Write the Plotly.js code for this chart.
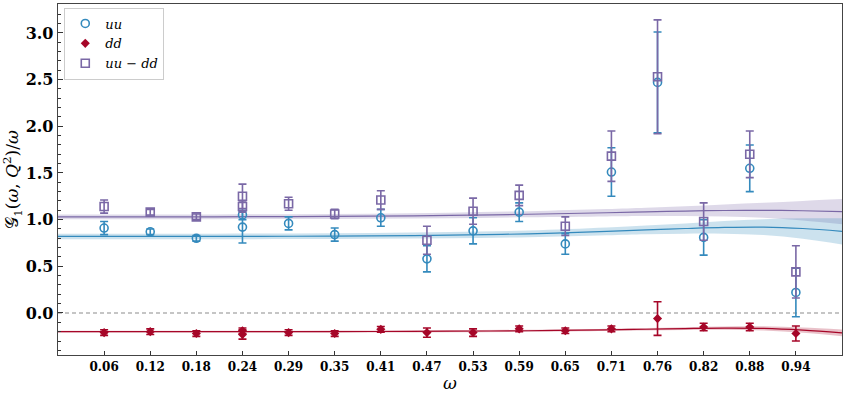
<!DOCTYPE html>
<html>
<head>
<meta charset="utf-8">
<script src="https://cdn.plot.ly/plotly-3.0.1.min.js"></script>
<style>html,body{margin:0;padding:0;background:#fff;}#chart{width:847px;height:394px;}</style>
</head>
<body>
<div id="chart"></div>
<script>
// ---- data points (omega = k/17, with two entries at 0.24) ----
const omega = [0.05882, 0.11765, 0.17647, 0.23529, 0.23529, 0.29412, 0.35294, 0.41176, 0.47059, 0.52941, 0.58824, 0.64706, 0.70588, 0.76471, 0.82353, 0.88235, 0.94118];
const uuVal  = [0.91, 0.87, 0.80, 1.05, 0.92, 0.96, 0.84, 1.02, 0.58, 0.88, 1.08, 0.74, 1.51, 2.47, 0.81, 1.55, 0.22];
const uuErr  = [0.07, 0.03, 0.03, 0.05, 0.17, 0.07, 0.07, 0.09, 0.14, 0.14, 0.10, 0.11, 0.26, 0.54, 0.19, 0.25, 0.26];
const ddVal  = [-0.21, -0.20, -0.22, -0.19, -0.23, -0.21, -0.22, -0.175, -0.21, -0.21, -0.17, -0.19, -0.17, -0.06, -0.15, -0.15, -0.22];
const ddErr  = [0.03, 0.03, 0.03, 0.03, 0.05, 0.03, 0.03, 0.03, 0.05, 0.04, 0.03, 0.03, 0.03, 0.18, 0.04, 0.04, 0.08];
const udVal  = [1.14, 1.08, 1.03, 1.25, 1.14, 1.17, 1.06, 1.21, 0.78, 1.09, 1.26, 0.93, 1.68, 2.53, 0.98, 1.70, 0.44];
const udErr  = [0.07, 0.03, 0.03, 0.13, 0.06, 0.07, 0.05, 0.10, 0.15, 0.14, 0.11, 0.10, 0.27, 0.61, 0.20, 0.25, 0.28];

// ---- tick labels ----
const tickVals = [0.05882, 0.11765, 0.17647, 0.23529, 0.29412, 0.35294, 0.41176, 0.47059, 0.52941, 0.58824, 0.64706, 0.70588, 0.76471, 0.82353, 0.88235, 0.94118];
const tickText = ["0.06","0.12","0.18","0.24","0.29","0.35","0.41","0.47","0.53","0.59","0.65","0.71","0.76","0.82","0.88","0.94"];

// ---- fit curves ----
const fitX    = [0.0, 0.1, 0.2, 0.3, 0.4, 0.5, 0.6, 0.7, 0.75, 0.8, 0.85, 0.9, 0.95, 1.0];
const uuFit   = [0.82, 0.82, 0.82, 0.822, 0.826, 0.834, 0.848, 0.874, 0.89, 0.905, 0.917, 0.92, 0.905, 0.875];
const uuBand  = [0.03, 0.03, 0.03, 0.03, 0.031, 0.033, 0.036, 0.042, 0.047, 0.055, 0.068, 0.085, 0.11, 0.14];
const ddFit   = [-0.20, -0.20, -0.20, -0.20, -0.198, -0.195, -0.19, -0.18, -0.174, -0.167, -0.162, -0.165, -0.183, -0.212];
const ddBand  = [0.01, 0.01, 0.01, 0.01, 0.01, 0.01, 0.011, 0.012, 0.013, 0.015, 0.018, 0.022, 0.028, 0.036];
const udFit   = [1.03, 1.03, 1.03, 1.033, 1.037, 1.045, 1.058, 1.074, 1.083, 1.092, 1.098, 1.10, 1.095, 1.085];
const udBand  = [0.025, 0.025, 0.025, 0.026, 0.027, 0.03, 0.033, 0.04, 0.045, 0.052, 0.065, 0.08, 0.105, 0.135];

const cBlue = '#348ABD', cRed = '#A60628', cPurp = '#7A68A6';

function band(center, half, color, fillcol) {
  const up = center.map((v, i) => v + half[i]);
  const lo = center.map((v, i) => v - half[i]);
  return [
    {x: fitX, y: lo, mode: 'lines', line: {width: 0, shape: 'spline'}, showlegend: false, hoverinfo: 'skip'},
    {x: fitX, y: up, mode: 'lines', line: {width: 0, shape: 'spline'}, fill: 'tonexty', fillcolor: fillcol, showlegend: false, hoverinfo: 'skip'},
    {x: fitX, y: center, mode: 'lines', line: {width: 1.2, color: color, shape: 'spline'}, showlegend: false, hoverinfo: 'skip'}
  ];
}

const traces = [].concat(
  band(udFit, udBand, cPurp, 'rgba(122,104,166,0.25)'),
  band(uuFit, uuBand, cBlue, 'rgba(52,138,189,0.25)'),
  band(ddFit, ddBand, cRed, 'rgba(166,6,40,0.25)'),
  [
    {x: omega, y: uuVal, name: '<i>uu</i>', mode: 'markers', type: 'scatter',
     marker: {symbol: 'circle-open', size: 8, color: cBlue, line: {width: 1.6, color: cBlue}},
     error_y: {type: 'data', array: uuErr, visible: true, color: cBlue, thickness: 1.6, width: 4}},
    {x: omega, y: ddVal, name: '<i>dd</i>', mode: 'markers', type: 'scatter',
     marker: {symbol: 'diamond', size: 7, color: cRed},
     error_y: {type: 'data', array: ddErr, visible: true, color: cRed, thickness: 1.6, width: 4}},
    {x: omega, y: udVal, name: '<i>uu</i> − <i>dd</i>', mode: 'markers', type: 'scatter',
     marker: {symbol: 'square-open', size: 8, color: cPurp, line: {width: 1.6, color: cPurp}},
     error_y: {type: 'data', array: udErr, visible: true, color: cPurp, thickness: 1.6, width: 4}}
  ]
);

const layout = {
  width: 847, height: 394,
  margin: {l: 58, r: 5, t: 4, b: 39},
  paper_bgcolor: '#fff', plot_bgcolor: '#fff',
  font: {family: 'DejaVu Serif, serif', color: '#000'},
  showlegend: true,
  legend: {x: 0.008, y: 0.99, xanchor: 'left', yanchor: 'top', bgcolor: 'rgba(255,255,255,0.9)',
           bordercolor: '#cccccc', borderwidth: 1, font: {size: 13, family: 'DejaVu Serif, serif'},
           traceorder: 'normal', tracegroupgap: 0, itemwidth: 20},
  xaxis: {range: [0, 1], showgrid: false, zeroline: false,
          tickmode: 'array', tickvals: tickVals, ticktext: tickText,
          ticks: 'inside', ticklen: 4, tickwidth: 1, tickcolor: '#333',
          tickfont: {size: 12, family: 'DejaVu Serif, serif', weight: 'bold'},
          showline: true, mirror: true, linecolor: '#444', linewidth: 1.3,
          title: {text: '<i>ω</i>', font: {size: 17}, standoff: 4}},
  yaxis: {range: [-0.45, 3.31], showgrid: false, zeroline: false,
          tickmode: 'linear', tick0: 0, dtick: 0.5, tickformat: '.1f',
          ticks: 'inside', ticklen: 5, tickwidth: 1, tickcolor: '#333',
          minor: {dtick: 0.1, ticks: 'inside', ticklen: 3, tickcolor: '#333', showgrid: false},
          tickfont: {size: 16, family: 'DejaVu Serif, serif', weight: 'bold'},
          showline: true, mirror: true, linecolor: '#444', linewidth: 1.3,
          title: {text: '𝒢<sub>1</sub>(<i>ω</i>, <i>Q</i><sup>2</sup>)/<i>ω</i>', font: {size: 17}, standoff: 4}},
  shapes: [{type: 'line', xref: 'paper', x0: 0, x1: 1, yref: 'y', y0: 0, y1: 0,
            line: {color: '#8c8c8c', width: 1.2, dash: '4px,3px'}, layer: 'below'}]
};

Plotly.newPlot('chart', traces, layout, {displayModeBar: false, staticPlot: true});
</script>
</body>
</html>
